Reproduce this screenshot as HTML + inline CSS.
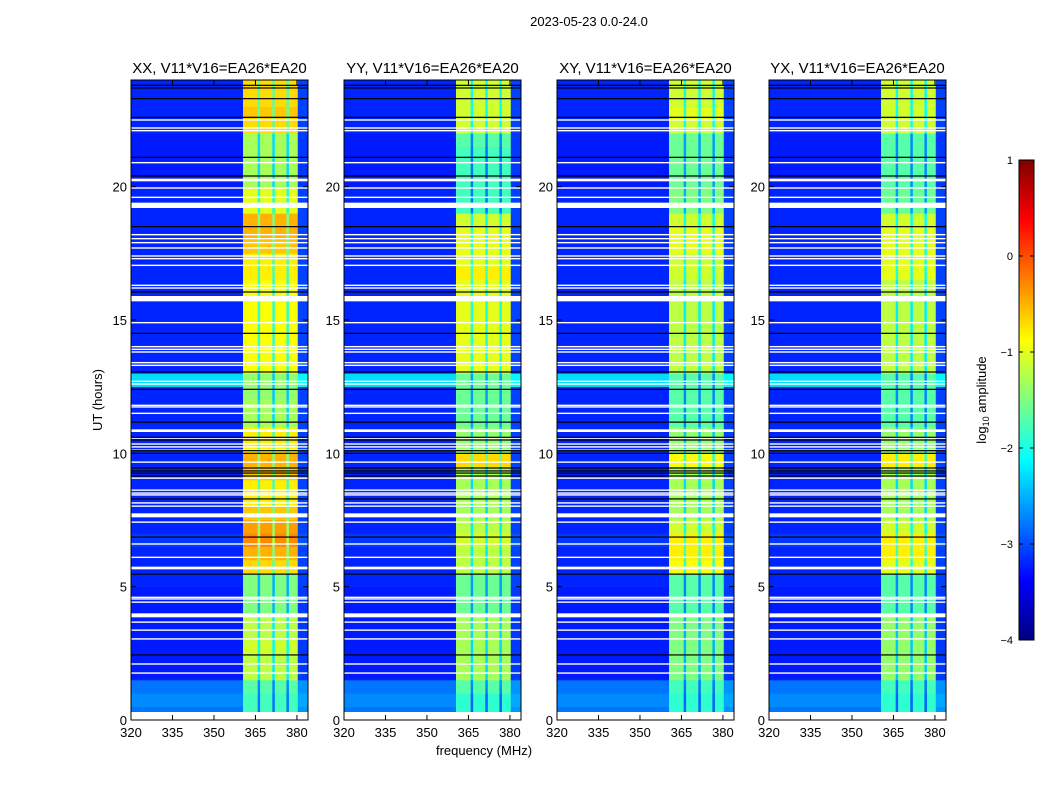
<!DOCTYPE html>
<html><head><meta charset="utf-8"><style>
body{margin:0;background:#fff;}
svg{display:block;font-family:"Liberation Sans",sans-serif;}
</style></head><body>
<svg id="fig" width="1050" height="800" viewBox="0 0 1050 800" xmlns="http://www.w3.org/2000/svg">
<rect width="1050" height="800" fill="#fff"/>
<text x="589" y="26" font-size="13" text-anchor="middle">2023-05-23 0.0-24.0</text>
<text x="484" y="755" font-size="13" text-anchor="middle">frequency (MHz)</text>
<text x="102" y="400" font-size="13" text-anchor="middle" transform="rotate(-90 102 400)">UT (hours)</text>
<text x="986" y="400" font-size="13" text-anchor="middle" transform="rotate(-90 986 400)">log<tspan font-size="9" dy="3">10</tspan><tspan dy="-3"> amplitude</tspan></text>
<g id="panels"></g>
<g id="cbar"></g>
</svg>
<script>
const panelTitles=["XX, V11*V16=EA26*EA20","YY, V11*V16=EA26*EA20","XY, V11*V16=EA26*EA20","YX, V11*V16=EA26*EA20"];
const xTicks=[320,335,350,365,380];
const yTicks=[0,5,10,15,20];
const cbTicks=[1,0,-1,-2,-3,-4];
// background log-amplitude per half-hour bin (0..24h)
const bgLevel=[-2.8,-2.7,-2.8,-3.25,-3.25,-3.25,-3.25,-3.25,-3.25,-3.25,-3.2,-3.2,-3.2,-3.1,-3.2,-3.2,-3.2,-3.2,-3.2,-3.2,-3.2,-3.2,-3.2,-3.2,-3.2,-2.3,-3.2,-3.2,-3.2,-3.2,-3.2,-3.2,-3.2,-3.2,-3.2,-3.2,-3.2,-3.2,-3.2,-3.2,-3.25,-3.25,-3.25,-3.25,-3.2,-3.2,-3.2,-3.2];
const hiXX=[-1.8,-1.8,-1.7,-1.2,-1.2,-1.1,-1.2,-1.2,-1.5,-1.5,-1.5,-0.7,-0.5,-0.3,-0.4,-0.6,-0.8,-0.8,-0.6,-0.5,-0.8,-0.8,-1.3,-1.3,-1.4,-1.4,-0.9,-0.9,-0.9,-0.9,-0.9,-0.9,-0.9,-0.8,-0.8,-0.6,-0.5,-0.5,-1.0,-1.0,-1.3,-1.3,-1.3,-1.3,-0.7,-0.6,-0.7,-0.7];
const hiYY=[-1.9,-1.9,-1.7,-1.3,-1.3,-1.3,-1.3,-1.3,-1.6,-1.6,-1.6,-1.2,-1.2,-1.1,-1.2,-1.3,-1.3,-1.3,-1.3,-0.7,-1.4,-1.4,-1.6,-1.6,-1.6,-1.6,-1.0,-1.0,-1.0,-1.0,-1.0,-1.0,-1.0,-0.8,-1.0,-1.0,-1.0,-1.1,-1.8,-1.8,-1.8,-1.8,-1.8,-1.7,-1.1,-1.1,-1.1,-1.1];
const hiXY=[-1.9,-1.9,-1.8,-1.5,-1.5,-1.5,-1.5,-1.5,-1.7,-1.7,-1.7,-0.9,-0.8,-0.8,-1.1,-1.3,-1.3,-1.3,-1.3,-0.9,-1.4,-1.4,-1.7,-1.7,-1.7,-1.7,-1.2,-1.2,-1.2,-1.2,-1.2,-1.2,-1.2,-1.1,-1.1,-1.0,-1.0,-1.1,-1.5,-1.5,-1.6,-1.6,-1.6,-1.6,-1.1,-1.0,-1.1,-1.1];
const hiYX=[-1.9,-1.9,-1.8,-1.4,-1.4,-1.4,-1.4,-1.4,-1.7,-1.7,-1.7,-1.0,-0.8,-0.8,-1.1,-1.3,-1.3,-1.3,-1.3,-0.8,-1.4,-1.4,-1.7,-1.7,-1.7,-1.7,-1.2,-1.2,-1.2,-1.2,-1.2,-1.2,-1.2,-1.0,-1.0,-1.0,-1.0,-1.1,-1.6,-1.6,-1.7,-1.7,-1.7,-1.7,-1.1,-1.1,-1.1,-1.1];
const hiLevels=[hiXX,hiYY,hiXY,hiYX];
const whiteBands=[[0,0.3],[3.85,4.0],[5.65,5.75],[7.6,7.75],[10.8,10.9],[15.7,15.9],[19.2,19.4],[20.2,20.3]];
const whiteLines=[1.76,2.1,3.04,3.37,3.67,4.42,4.54,4.6,6.1,6.6,7.42,8.02,8.14,8.44,8.51,8.62,9.07,9.67,10.12,10.24,10.35,10.57,11.5,11.74,11.8,12.6,12.7,13.3,13.4,13.8,13.9,14.0,14.9,16.2,16.3,17.05,17.3,17.4,17.7,17.9,18.05,18.2,19.6,19.95,20.9,22.1,22.2,22.5];
const blackLines=[2.44,5.47,6.86,8.29,9.15,9.26,9.34,9.45,10.0,10.1,10.5,10.6,11.17,12.4,13.05,14.5,16.05,18.5,20.4,21.1,22.6,23.3,23.7,23.8];

const NS="http://www.w3.org/2000/svg";
function el(t,a,p){const e=document.createElementNS(NS,t);for(const k in a)e.setAttribute(k,a[k]);p.appendChild(e);return e;}
function jet(v){
  let t=(v+4)/5;t=Math.max(0,Math.min(1,t));
  const c=x=>Math.round(255*Math.max(0,Math.min(1,x)));
  const r=1.5-Math.abs(4*t-3),g=1.5-Math.abs(4*t-2),b=1.5-Math.abs(4*t-1);
  return `rgb(${c(r)},${c(g)},${c(b)})`;
}
const panelX=[131,344,557,769],PW=177,Y0=80,Y1=720;
const yS=h=>Y1-(h/24)*(Y1-Y0);
const segs=[[320,360.5,'bg'],[360.5,365.8,'hi'],[365.8,366.7,'gap'],[366.7,371.1,'hi'],[371.1,372.0,'gap'],[372.0,376.2,'hi'],[376.2,377.1,'gap'],[377.1,380.3,'hi'],[380.3,384,'edge']];
const G=document.getElementById('panels');
panelTitles.forEach((title,p)=>{
  const x0=panelX[p];
  const xS=f=>x0+(f-320)*PW/64;
  const g=el('g',{},G);
  
  
  const hi=hiLevels[p];
  for(let i=0;i<48;i++){
    const ya=yS((i+1)/2),yb=yS(i/2);
    segs.forEach(s=>{
      let v=s[2]==='bg'?bgLevel[i]:s[2]==='hi'?hi[i]:s[2]==='gap'?hi[i]-1.0:bgLevel[i]+0.15;
      const r=el('rect',{x:xS(s[0]),y:ya,width:xS(s[1])-xS(s[0])+0.3,height:yb-ya+0.3,fill:jet(v)},g);
      
      
    });
  }
  whiteBands.forEach(b=>{const r=el('rect',{x:x0,y:yS(b[1]),width:PW,height:yS(b[0])-yS(b[1]),fill:'#fff'},g);
    });
  whiteLines.forEach(h=>{const r=el('rect',{x:x0,y:yS(h)-0.7,width:PW,height:1.4,fill:'#fff'},g);
    });
  blackLines.forEach(h=>{const r=el('rect',{x:x0,y:yS(h)-0.6,width:PW,height:1.2,fill:'#000'},g);
    });
  const fr=el('rect',{x:x0,y:Y0,width:PW,height:Y1-Y0,fill:'none',stroke:'#000','stroke-width':1},g);
  
  const t=el('text',{x:x0+PW/2,y:73,'font-size':15,'text-anchor':'middle'},g);t.textContent=title;
  
  xTicks.forEach(f=>{
    el('line',{x1:xS(f),x2:xS(f),y1:Y1,y2:Y1-5,stroke:'#000'},g);
    el('line',{x1:xS(f),x2:xS(f),y1:Y0,y2:Y0+5,stroke:'#000'},g);
    const tx=el('text',{x:xS(f),y:737,'font-size':13,'text-anchor':'middle'},g);tx.textContent=f;
    
  });
  yTicks.forEach(h=>{
    el('line',{x1:x0,x2:x0+5,y1:yS(h),y2:yS(h),stroke:'#000'},g);
    el('line',{x1:x0+PW,x2:x0+PW-5,y1:yS(h),y2:yS(h),stroke:'#000'},g);
    const ty=el('text',{x:x0-4,y:yS(h)+5,'font-size':13,'text-anchor':'end'},g);ty.textContent=h;
    
  });
});
const CB=document.getElementById('cbar');

const cy=v=>160+(1-v)/5*480;
for(let k=0;k<240;k++){const v=1-k*5/240;el('rect',{x:1019,y:cy(v),width:15,height:2.3,fill:jet(v-0.01)},CB);}
el('rect',{x:1019,y:160,width:15,height:480,fill:'none',stroke:'#000'},CB);
cbTicks.forEach(v=>{
  el('line',{x1:1019,x2:1023,y1:cy(v),y2:cy(v),stroke:'#000'},CB);
  el('line',{x1:1034,x2:1030,y1:cy(v),y2:cy(v),stroke:'#000'},CB);
  const t=el('text',{x:1013,y:cy(v)+4,'font-size':11,'text-anchor':'end'},CB);t.textContent=v<0?'\u2212'+(-v):v;
  
});
</script>
</body></html>
